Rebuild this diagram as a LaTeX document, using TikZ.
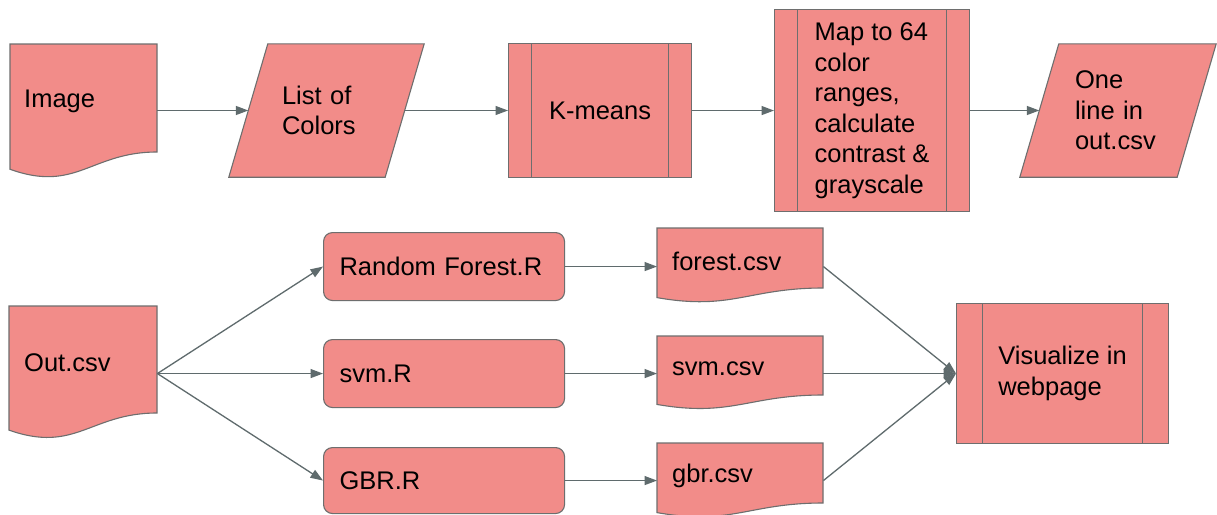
\documentclass[tikz,border=0pt]{standalone}
\usepackage{fontspec}
\setmainfont{Liberation Sans}
\usetikzlibrary{arrows.meta,calc,backgrounds}
\definecolor{boxfill}{HTML}{F28C89}
\definecolor{boxline}{HTML}{6E6E6E}
\definecolor{arrowc}{HTML}{5F6B6D}
\tikzset{
  lbl/.style={font=\fontsize{25.5}{30.5}\selectfont, inner ysep=0pt},
  shapeline/.style={draw=boxline, fill=boxfill, line width=1.1pt},
  docnode/.style={lbl, rectangle, anchor=north west, align=left, inner xsep=#1, yshift=-3pt},
  docnode/.default=14pt,
  paranode/.style={lbl, rectangle, align=left},
  procbox/.style={lbl, rectangle, anchor=north west, shapeline, align=left,
    path picture={
      \draw[boxline, line width=1.1pt]
        ([xshift=#1]path picture bounding box.north west) -- ([xshift=#1]path picture bounding box.south west)
        ([xshift=-#1]path picture bounding box.north east) -- ([xshift=-#1]path picture bounding box.south east);}},
  procbox/.default=23pt,
  roundbox/.style={lbl, rectangle, rounded corners=9pt, anchor=north west, shapeline, align=left,
    inner xsep=16pt, text width=209pt, minimum width=241pt},
  arr/.style={draw=arrowc, line width=1.3pt, -{Triangle[length=12.5pt,width=9pt]}}
}
% document shape: name, x1, y1, x2, y2 (straight part), text, inner xsep
\newcommand\docbox[7]{%
  \begin{scope}[on background layer]
    \path[shapeline] (#2,#3) -- (#4,#3) -- (#4,#5)
      .. controls ({#2+0.55*(#4-#2)},#5) and ({#2+0.45*(#4-#2)},{#5+0.38*(#5-#3)})
      .. (#2,{#5+0.16*(#5-#3)}) -- cycle;
  \end{scope}
  \node[docnode=#7, minimum width={(#4-#2)*1pt}, minimum height={(#5-#3)*1pt},
        text width={(#4-#2)*1pt-2*#7}] (#1) at (#2,#3) {#6};
}
% parallelogram outline around a node whose west/east anchors lie on the slanted sides
\newcommand\paraoutline[1]{%
  \begin{scope}[on background layer]
    \path[shapeline] ([xshift=19.5pt]#1.north west) -- ([xshift=19.5pt]#1.north east)
      -- ([xshift=-19.5pt]#1.south east) -- ([xshift=-19.5pt]#1.south west) -- cycle;
  \end{scope}
}
\begin{document}
\begin{tikzpicture}[x=1pt, y=-1pt]
  \begin{scope}[on background layer]
    \fill[white] (0,0) rectangle (1217,514);
  \end{scope}
  \useasboundingbox (0,0) rectangle (1217,514);

  % ---- top row ----
  \docbox{img}{10}{44}{157}{152}{Image}{14pt}
  \node[paranode, minimum width=156pt, minimum height=133pt, inner xsep=33.5pt, text width=89pt]
    (list) at (326.5,110.5) {List of\\Colors};
  \paraoutline{list}
  \node[procbox, minimum width=183pt, minimum height=134pt, align=center] (km) at (508,43) {K-means};
  \node[procbox, minimum width=195pt, minimum height=202pt] (map) at (774,9)
    {Map to 64\\color\\ranges,\\calculate\\contrast \&\\grayscale};
  \node[paranode, minimum width=157pt, minimum height=133pt, inner xsep=35.5pt, text width=86pt]
    (one) at (1118,110.5) {One\\line in\\out.csv};
  \paraoutline{one}

  \draw[arr] (img.east |- list.west) -- (list.west);
  \draw[arr] (list.east) -- (list.east -| km.west);
  \draw[arr] (km.east) -- (km.east -| map.west);
  \draw[arr] (map.east |- one.west) -- (one.west);

  % ---- bottom row ----
  \docbox{out}{9}{306}{157}{413}{Out.csv}{15pt}
  \node[roundbox, minimum height=68pt] (rf) at (323,232) {Random Forest.R};
  \node[roundbox, minimum height=68pt] (svmR) at (323,339) {svm.R};
  \node[roundbox, minimum height=66pt] (gbrR) at (323,447) {GBR.R};
  \docbox{forest}{657}{228}{823}{288}{forest.csv}{15pt}
  \docbox{svm}{657}{336}{823}{395}{svm.csv}{15pt}
  \docbox{gbr}{657}{443}{823}{503}{gbr.csv}{15pt}
  \node[procbox=26pt, minimum width=212pt, minimum height=140pt] (vis) at (956,303)
    {Visualize in\\webpage};

  \coordinate (fan) at (out.east |- svmR.west);
  \draw[arr] (fan) -- (rf.west);
  \draw[arr] (fan) -- (svmR.west);
  \draw[arr] (fan) -- (gbrR.west);

  \draw[arr] (rf.east) -- (rf.east -| forest.west);
  \draw[arr] (svmR.east) -- (svmR.east -| svm.west);
  \draw[arr] (gbrR.east) -- (gbrR.east -| gbr.west);

  \draw[arr] (forest.east |- rf.east) -- (vis.west);
  \draw[arr] (svm.east |- svmR.east) -- (vis.west);
  \draw[arr] (gbr.east |- gbrR.east) -- (vis.west);
\end{tikzpicture}
\end{document}
